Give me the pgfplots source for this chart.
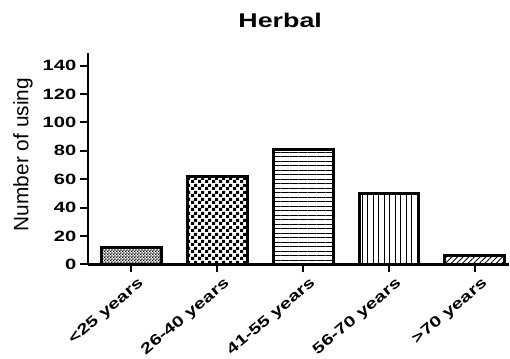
\documentclass[border=0pt]{standalone}
\usepackage{fontspec}
\setmainfont{Liberation Sans}
\newfontfamily\wide{Liberation Sans}[FakeStretch=1.35]
\usepackage{pgfplots}
\pgfplotsset{compat=1.18}
\usetikzlibrary{patterns,patterns.meta}

\pgfdeclarepatternformonly{bigcheck}{\pgfqpoint{0bp}{0bp}}{\pgfqpoint{6.6bp}{6.6bp}}{\pgfqpoint{6.6bp}{6.6bp}}{%
  \pgfpathrectangle{\pgfqpoint{0bp}{0bp}}{\pgfqpoint{3.3bp}{3.3bp}}%
  \pgfpathrectangle{\pgfqpoint{3.3bp}{3.3bp}}{\pgfqpoint{3.3bp}{3.3bp}}%
  \pgfusepath{fill}}
\pgfdeclarepatternformonly{smallcheck}{\pgfqpoint{0bp}{0bp}}{\pgfqpoint{3.2bp}{3.2bp}}{\pgfqpoint{3.2bp}{3.2bp}}{%
  \pgfpathrectangle{\pgfqpoint{0bp}{0bp}}{\pgfqpoint{1.6bp}{1.6bp}}%
  \pgfpathrectangle{\pgfqpoint{1.6bp}{1.6bp}}{\pgfqpoint{1.6bp}{1.6bp}}%
  \pgfusepath{fill}}

\begin{document}
\begin{tikzpicture}
\path (-88bp,-84bp) rectangle (422bp,265bp);
\begin{axis}[
  at={(0,0)}, anchor=south west,
  scale only axis,
  width=422bp, height=212bp,
  xmin=-0.508, xmax=4.394,
  ymin=0, ymax=149,
  axis x line=bottom, axis y line=left,
  axis line style={-, line width=2.5bp, black},
  tick style={line width=2bp, black},
  major tick length=8bp,
  tick align=outside,
  xtick={0,1,2,3,4},
  xticklabels={<25 years,26-40 years,41-55 years,56-70 years,>70 years},
  ytick={0,20,40,60,80,100,120,140},
  /pgf/number format/assume math mode=true,
  ticklabel style={font=\wide\bfseries\fontsize{15}{17}\selectfont},
  x tick label style={rotate=40, anchor=north east, inner sep=1bp, yshift=-6bp, xshift=3bp},
  ylabel={Number of using},
  every axis y label/.style={at={(axis description cs:-0.154,0.519)}, rotate=90, anchor=center, font=\fontsize{21}{24}\selectfont},
  title={Herbal},
  every axis title/.style={at={(axis description cs:0.457,1.121)}, anchor=base, font=\wide\bfseries\fontsize{20}{24}\selectfont},
  ybar, bar width=60bp, bar shift=0pt,
  every axis plot/.append style={draw=black, line width=3bp},
]
\addplot[pattern=smallcheck] coordinates {(0,12)};
\addplot[pattern=bigcheck] coordinates {(1,62)};
\addplot[pattern={Lines[angle=0,distance=4.5bp,line width=0.9bp]}] coordinates {(2,81)};
\addplot[pattern={Lines[angle=90,distance=5.5bp,line width=0.9bp]}] coordinates {(3,50)};
\addplot[pattern={Lines[angle=45,distance=4bp,line width=0.9bp]}] coordinates {(4,6)};
\end{axis}
\end{tikzpicture}
\end{document}
